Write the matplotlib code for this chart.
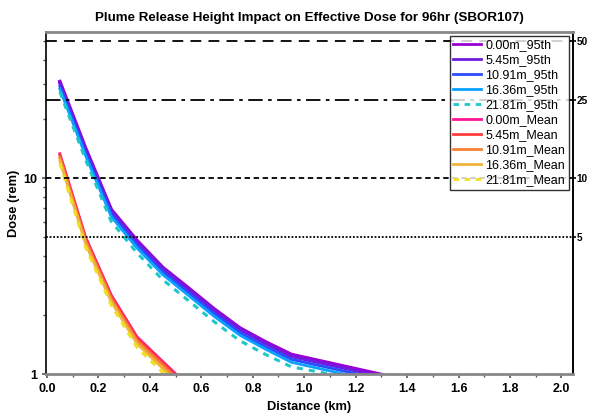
import numpy as np
import matplotlib.pyplot as plt
from matplotlib.ticker import FixedLocator, NullFormatter, MultipleLocator

plt.rcParams['font.family'] = ['Liberation Sans', 'DejaVu Sans']

# distances (km)
dist_95 = [0.05, 0.15, 0.25, 0.35, 0.45, 0.55, 0.65, 0.75, 0.85, 0.95, 1.45]
dist_mean = [0.05, 0.15, 0.25, 0.35, 0.45, 0.55]

# 95th percentile dose (rem) per release height
d95_000 = [31.0, 14.2, 6.9, 4.8, 3.5, 2.75, 2.15, 1.72, 1.46, 1.26, 0.90]
d95_545 = [30.4, 13.9, 6.8, 4.7, 3.45, 2.7, 2.11, 1.69, 1.43, 1.23, 0.88]
d95_1091 = [29.3, 13.4, 6.55, 4.55, 3.33, 2.6, 2.04, 1.63, 1.38, 1.19, 0.85]
d95_1636 = [28.4, 13.0, 6.35, 4.4, 3.22, 2.52, 1.97, 1.58, 1.34, 1.15, 0.82]
d95_2181 = [27.5, 12.4, 6.0, 4.15, 3.03, 2.37, 1.85, 1.48, 1.26, 1.09, 0.82]

# mean dose (rem)
dm_000 = [13.3, 5.0, 2.53, 1.55, 1.16, 0.87]
dm_545 = [13.1, 4.92, 2.49, 1.52, 1.14, 0.85]
dm_1091 = [12.7, 4.78, 2.42, 1.48, 1.11, 0.83]
dm_1636 = [12.3, 4.62, 2.34, 1.43, 1.07, 0.80]
dm_2181 = [11.9, 4.45, 2.25, 1.37, 1.02, 0.77]

ref_levels = [50, 25, 10, 5]

fig = plt.figure(figsize=(5.89, 4.19), dpi=100)
ax = fig.add_axes([0.078, 0.107, 0.894, 0.817])

for x, y, c, ls, lw, lab in [
        (dist_95, d95_000, '#9a00d6', '-', 2.6, '0.00m_95th'),
        (dist_95, d95_545, '#6f1be0', '-', 2.3, '5.45m_95th'),
        (dist_95, d95_1091, '#2a4cff', '-', 2.0, '10.91m_95th'),
        (dist_95, d95_1636, '#0aa0ff', '-', 2.0, '16.36m_95th'),
        (dist_95, d95_2181, '#1ec8c8', (0, (2, 2)), 2.2, '21.81m_95th'),
        (dist_mean, dm_000, '#ff1493', '-', 2.0, '0.00m_Mean'),
        (dist_mean, dm_545, '#ff3c3c', '-', 2.0, '5.45m_Mean'),
        (dist_mean, dm_1091, '#f58232', '-', 2.0, '10.91m_Mean'),
        (dist_mean, dm_1636, '#eeb43c', '-', 2.0, '16.36m_Mean'),
        (dist_mean, dm_2181, '#f0e020', (0, (2, 2)), 2.2, '21.81m_Mean')]:
    ax.plot(x, y, color=c, ls=ls, lw=lw, label=lab)

# guide lines
ax.axhline(50, color='black', lw=1.3, ls=(0, (6, 4)))
ax.axhline(25, color='black', lw=1.3, ls=(0, (8, 3, 2, 3)))
ax.axhline(10, color='black', lw=1.3, ls=(0, (3, 2)))
ax.axhline(5, color='black', lw=1.3, ls=(0, (1, 1)))

ax.set_yscale('log')
ax.set_ylim(1, 55.6)
ax.set_xlim(-0.004, 2.043)
ax.xaxis.set_major_locator(MultipleLocator(0.2))
ax.xaxis.set_minor_locator(MultipleLocator(0.1))
ax.set_xticklabels([f'{v:.1f}' for v in ax.get_xticks()])
ax.yaxis.set_major_locator(FixedLocator([1, 10]))
ax.set_yticklabels(['1', '10'])
ax.yaxis.set_minor_formatter(NullFormatter())

for lbl in ax.get_xticklabels() + ax.get_yticklabels():
    lbl.set_fontweight('bold')
    lbl.set_fontsize(9)

ax.tick_params(which='major', length=3, width=1.2, color='#555555')
ax.tick_params(which='minor', length=2, width=1.0, color='#555555')

ax.spines['top'].set_color('#888888')
ax.spines['bottom'].set_color('#888888')
ax.spines['top'].set_linewidth(2)
ax.spines['bottom'].set_linewidth(2)
ax.spines['left'].set_linewidth(1.2)
ax.spines['right'].set_linewidth(1.2)

ax.set_xlabel('Distance (km)', fontsize=9.3, fontweight='bold')
ax.set_ylabel('Dose (rem)', fontsize=9.3, fontweight='bold', labelpad=2)
ax.set_title('Plume Release Height Impact on Effective Dose for 96hr (SBOR107)',
             fontsize=9.6, fontweight='bold', pad=8)

ax2 = ax.twinx()
ax2.set_yscale('log')
ax2.set_ylim(ax.get_ylim())
ax2.yaxis.set_major_locator(FixedLocator(ref_levels))
ax2.yaxis.set_minor_locator(FixedLocator([]))
ax2.set_yticklabels([str(v) for v in ref_levels], fontsize=7.2, fontweight='bold')
ax2.tick_params(axis='y', length=2.5, width=1.2, pad=0.5)
for s in ['top', 'bottom', 'left']:
    ax2.spines[s].set_visible(False)
ax2.spines['right'].set_linewidth(1.2)

leg = ax.legend(loc='upper right', fontsize=9, frameon=True, fancybox=False,
                edgecolor='black', borderaxespad=0.3, handlelength=2.2,
                labelspacing=0.24, borderpad=0.3, handletextpad=0.35)
leg.get_frame().set_linewidth(1.0)
for h in leg.get_lines():
    h.set_linewidth(2.0)
leg.set_zorder(5)
ax.set_zorder(ax2.get_zorder() + 1)
ax.patch.set_visible(False)

fig.savefig('out.png', dpi=100)
